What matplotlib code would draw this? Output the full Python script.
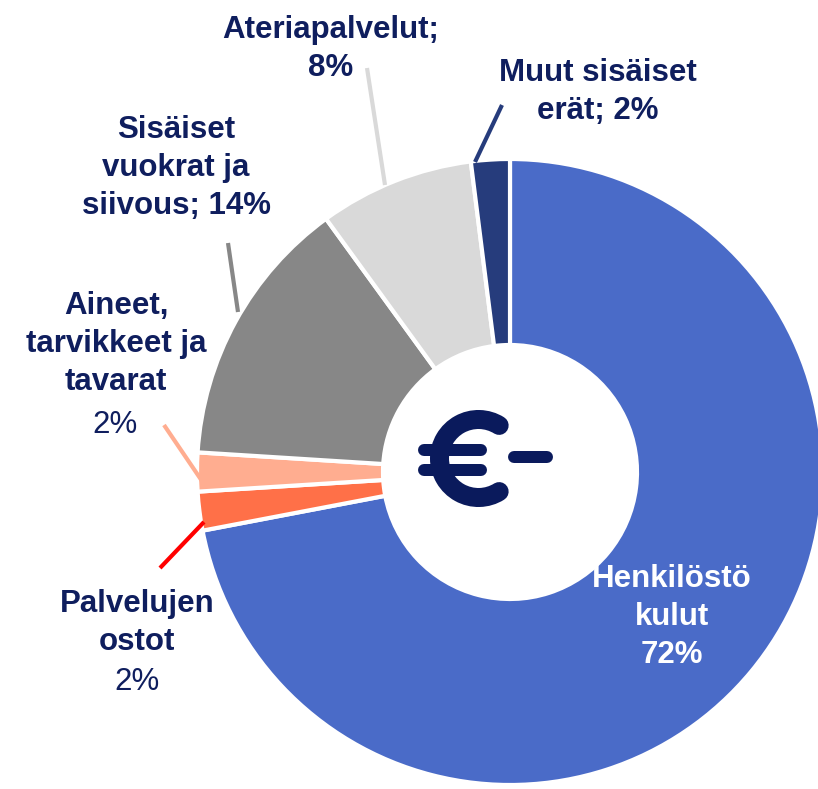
import matplotlib.pyplot as plt
from matplotlib.patches import Arc

labels = ["Henkilöstö\nkulut", "Palvelujen\nostot", "Aineet,\ntarvikkeet ja\ntavarat",
          "Sisäiset\nvuokrat ja\nsiivous", "Ateriapalvelut", "Muut sisäiset\nerät"]
shares = [72, 2, 2, 14, 8, 2]
colors = ["#4A6BC8", "#FF7048", "#FFAD90", "#878787", "#D9D9D9", "#263C7C"]

navy = "#0F1E5E"
euro_col = "#0A1A5C"
H = 789
FS = 22.5
LS = 1.35

plt.rcParams["font.family"] = ["Liberation Sans", "DejaVu Sans"]

fig = plt.figure(figsize=(8.18, 7.89), dpi=100)
ax = fig.add_axes([0, 0, 1, 1])

cx, cy, r = 510, H - 472, 313
ax.pie(shares, colors=colors, startangle=90, counterclock=False,
       radius=r, center=(cx, cy),
       wedgeprops=dict(width=186, edgecolor="white", linewidth=3))
ax.set_xlim(0, 818)
ax.set_ylim(0, H)
ax.set_aspect("equal")
ax.axis("off")


def txt(x, y, s, bold=True, color=navy):
    ax.text(x, H - y, s, ha="center", va="center", fontsize=FS,
            fontweight="bold" if bold else "normal", color=color, linespacing=LS)


def leader(x0, y0, x1, y1, color):
    ax.plot([x0, x1], [H - y0, H - y1], color=color, lw=3, solid_capstyle="butt")


# Ateriapalvelut
txt(331, 49, labels[4] + ";\n" + f"{shares[4]}%")
leader(367, 68, 385, 185, colors[4])

# Muut sisäiset erät
txt(598, 92, labels[5] + f"; {shares[5]}%")
leader(502, 105, 475, 162, colors[5])

# Sisäiset vuokrat ja siivous
txt(176, 168, labels[3] + f"; {shares[3]}%")
leader(228, 243, 238, 312, colors[3])

# Aineet, tarvikkeet ja tavarat
txt(116, 344, labels[2])
txt(115, 425, f"{shares[2]}%", bold=False)
leader(164, 425, 204, 484, colors[2])

# Palvelujen ostot
txt(137, 623, labels[1])
txt(137, 682, f"{shares[1]}%", bold=False)
leader(160, 568, 204, 522, "#FF0000")

# Henkilöstö kulut
txt(672, 617, labels[0] + f"\n{shares[0]}%", color="white")

# euro sign in the centre, drawn with rounded strokes
px = 72 / 100  # points per pixel
ex, ey = 478.5, H - 458.5
arc = Arc((ex, ey), 78, 78, theta1=58, theta2=302, color=euro_col, lw=19 * px)
arc.set_capstyle("round")
ax.add_patch(arc)
for yy in (450, 470):
    ax.plot([424, 481], [H - yy, H - yy], color=euro_col, lw=12 * px, solid_capstyle="round")
ax.plot([514, 547], [H - 457, H - 457], color=euro_col, lw=12 * px, solid_capstyle="round")

fig.savefig("out.png", dpi=100)
